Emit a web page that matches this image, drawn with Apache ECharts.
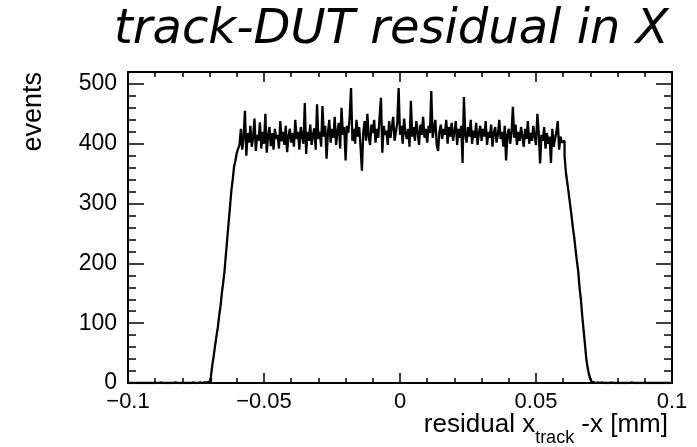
<!DOCTYPE html>
<html>
<head>
<meta charset="utf-8">
<script src="https://cdn.jsdelivr.net/npm/echarts@6/dist/echarts.min.js"></script>
<style>
  html, body { margin: 0; padding: 0; background: #fff; }
  #chart { width: 697px; height: 447px; }
</style>
</head>
<body>
<div id="chart"></div>
<script>
// histogram binning (400 bins from -0.1 to 0.1)
var binLow = -0.1;
var binWidth = 0.0005;

// bin contents, left to right
var leftTail = [0, 0, 0, 0, 0, 0, 0, 0, 0, 0, 0, 0, 0, 0, 0, 0, 0, 0, 0, 0,
    0, 0, 0, 1, 0, 0, 0, 0, 0, 0, 0, 0, 0, 0, 0, 1, 0, 0, 0, 0,
    0, 0, 0, 0, 0, 0, 0, 1, 0, 0, 0, 0, 1, 0, 0, 1, 0, 1, 1, 2];
var riseEdge = [3, 12, 30, 45, 62, 78, 92, 112, 128, 150, 168, 188, 215, 242, 268, 295, 322, 340, 362, 372, 385, 392];
var plateau = [398, 425, 390, 412, 455, 380, 418, 402,
    430, 395, 410, 442, 388, 415, 405, 436, 392, 420,
    400, 450, 385, 412, 428, 396, 418, 390, 425, 408,
    415, 392, 438, 404, 420, 398, 430, 386, 412, 425,
    402, 418, 395, 440, 408, 420, 390, 428, 412, 400,
    468, 383, 420, 405, 432, 398, 415, 426, 390, 466,
    408, 420, 395, 463, 412, 430, 375, 418, 440, 402,
    425, 410, 445, 398, 420, 435, 392, 460, 415, 428,
    372, 430, 418, 445, 493, 405, 425, 400, 440, 412,
    428, 395, 355, 420, 438, 405, 450, 412, 398, 432,
    418, 440, 402, 425, 410, 445, 477, 385, 430, 415,
    422, 398, 438, 410, 428, 445, 405, 420, 435, 493,
    415, 430, 400, 442, 418, 408, 425, 395, 472, 412,
    428, 405, 438, 420, 398, 432, 415, 445, 410, 425,
    402, 430, 418, 488, 410, 425, 440, 398, 388, 420,
    432, 408, 425, 415, 440, 400, 428, 412, 435, 405,
    420, 438, 398, 425, 410, 430, 368, 478, 415, 402,
    428, 412, 440, 400, 422, 410, 435, 398, 418, 430,
    405, 425, 412, 438, 398, 420, 410, 432, 395, 418,
    428, 402, 415, 440, 408, 420, 395, 430, 372, 415,
    425, 400, 418, 462, 410, 432, 398, 420, 405, 428,
    412, 395, 425, 408, 438, 400, 418, 405, 430, 412,
    398, 450, 420, 367, 415, 405, 428, 392, 418, 400,
    412, 368, 425, 395, 408, 420, 438, 390, 412, 402];
var fallEdge = [405, 380, 352, 335, 318, 300, 282, 262, 245, 225, 205, 188, 160, 140, 112, 88, 65, 40, 25, 14, 6, 2];
var rightTail = [1, 1, 0, 1, 0, 0, 1, 0, 0, 0, 0, 0, 0, 1, 0, 0, 0, 0, 0, 0,
    0, 0, 0, 0, 0, 0, 0, 0, 1, 0, 0, 0, 0, 0, 0, 0, 0, 0, 0, 0,
    0, 0, 0, 0, 0, 0, 0, 0, 0, 0, 0, 0, 0, 0, 0, 0, 0, 0];

var xTicks = [-0.1, -0.05, 0, 0.05, 0.1];
var yTicks = [0, 100, 200, 300, 400, 500];

var counts = leftTail.concat(riseEdge, plateau, fallEdge, rightTail);
var histData = counts.map(function(c, i) {
    return [binLow + (i + 0.5) * binWidth, c];
});

var font = 'Liberation Sans';
var black = '#000';

function xLabel(v) {
    var hit = xTicks.filter(function(t) { return Math.abs(t - v) < 1e-9; });
    if (!hit.length) return '';
    var t = hit[0];
    if (t === 0) return '0';
    return String(t).replace('-', '\u2212');
}

function yLabel(v) {
    return yTicks.indexOf(Math.round(v)) >= 0 ? String(Math.round(v)) : '';
}

function xAxisOpt(pos, labels) {
    return {
        type: 'value',
        position: pos,
        min: -0.1,
        max: 0.1,
        interval: 0.05,
        axisLine: { show: true, onZero: false, lineStyle: { color: black, width: 2 } },
        axisTick: { show: true, inside: true, length: 10, lineStyle: { color: black, width: 1.5 } },
        minorTick: { show: true, splitNumber: 5, length: 5, lineStyle: { color: black, width: 1.5 } },
        splitLine: { show: false },
        axisLabel: {
            show: labels,
            margin: 8,
            fontSize: 22,
            fontFamily: font,
            color: black,
            formatter: xLabel
        }
    };
}

function yAxisOpt(pos, step, tickLen, labels) {
    return {
        type: 'value',
        position: pos,
        min: 0,
        max: 520,
        interval: step,
        axisLine: { show: step === 20, onZero: false, lineStyle: { color: black, width: 2 } },
        axisTick: { show: true, inside: true, length: tickLen, lineStyle: { color: black, width: 1.5 } },
        splitLine: { show: false },
        axisLabel: {
            show: labels,
            margin: 11,
            fontSize: 23,
            fontFamily: font,
            color: black,
            formatter: yLabel
        }
    };
}

var chart = echarts.init(document.getElementById('chart'), null, { renderer: 'canvas' });

var option = {
    animation: false,
    backgroundColor: '#fff',
    title: {
        text: 'track-DUT residual in X',
        left: 109,
        top: 2,
        textStyle: {
            fontFamily: 'DejaVu Sans',
            fontStyle: 'italic',
            fontWeight: 'normal',
            fontSize: 48,
            color: black
        }
    },
    grid: { left: 128, right: 25, top: 72, bottom: 64 },
    xAxis: [xAxisOpt('bottom', true), xAxisOpt('top', false)],
    yAxis: [
        yAxisOpt('left', 20, 8, true),
        yAxisOpt('left', 100, 16, false),
        yAxisOpt('right', 20, 8, false),
        yAxisOpt('right', 100, 16, false)
    ],
    graphic: [{
            type: 'text',
            x: 47,
            y: 72,
            rotation: Math.PI / 2,
            style: {
                text: 'events',
                align: 'right',
                verticalAlign: 'bottom',
                font: '27px "Liberation Sans"',
                fill: black
            }
        },
        {
            type: 'text',
            right: 29,
            top: 412,
            style: {
                text: '{m|residual x}{s|track}{m| -x [mm]}',
                fill: black,
                rich: {
                    m: { fontSize: 26, fontFamily: font, fill: black },
                    s: { fontSize: 18, fontFamily: font, fill: black, padding: [26, 0, 0, 0] }
                }
            }
        }
    ],
    series: [{
        type: 'line',
        xAxisIndex: 0,
        yAxisIndex: 0,
        step: 'middle',
        symbol: 'none',
        data: histData,
        lineStyle: { color: black, width: 2.3 }
    }]
};

chart.setOption(option);
</script>
</body>
</html>
